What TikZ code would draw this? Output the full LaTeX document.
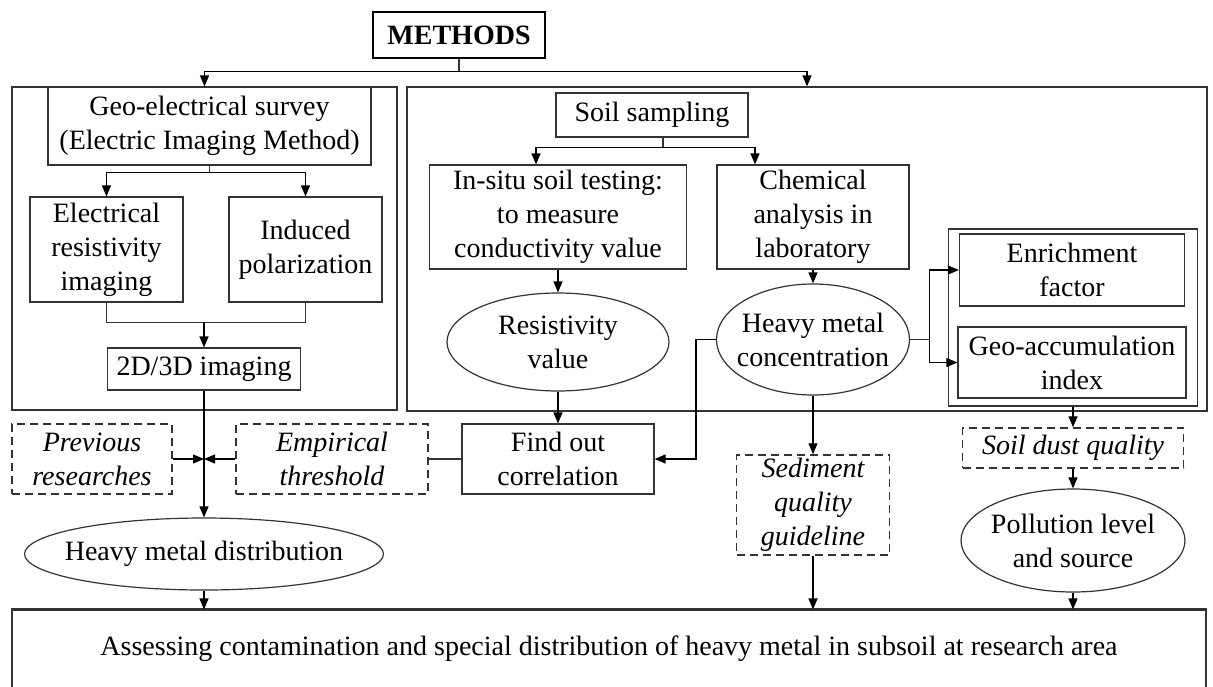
\documentclass[tikz,border=0pt]{standalone}
\usepackage{fontspec}
\setmainfont{Liberation Serif}
\usetikzlibrary{arrows.meta,shapes.geometric}
\definecolor{ln}{HTML}{333333}
\newcommand{\zwbox}[1]{\makebox[0pt]{#1}}
\begin{document}
\begin{tikzpicture}[x=1pt,y=-1pt,
  every node/.style={font=\fontsize{28}{34}\selectfont, align=center, inner sep=0pt},
  box/.style={draw=ln, line width=1.2pt, rectangle},
  dbox/.style={draw=ln, line width=1.5pt, dash pattern=on 8pt off 5pt, rectangle, font=\fontsize{28}{34}\selectfont\itshape},
  oval/.style={draw=ln, line width=1.2pt, ellipse},
  conn/.style={draw=ln, line width=1.2pt},
  arr/.style={conn, -{Triangle[length=11pt,width=9pt]}, color=black}]
\useasboundingbox (0,0) rectangle (1213,686);
\fill[white] (0,0) rectangle (1213,686);

% containers
\node[box, minimum width=385pt, minimum height=323pt] (leftbox) at (204.5,248.5) {};
\node[box, minimum width=800pt, minimum height=324pt] (rightbox) at (807,249) {};
\node[box, minimum width=249pt, minimum height=177pt] (cont) at (1073,317.5) {};

% top
\node[box, line width=2.8pt, draw=black, minimum width=172pt, minimum height=46pt] (methods) at (459,35) {\textbf{METHODS}};

% left column
\node[box, minimum width=323pt, minimum height=78pt] (geo) at (209.5,126) {Geo-electrical survey\\(Electric Imaging Method)};
\node[box, minimum width=153pt, minimum height=105pt] (eri) at (106.5,249.5) {Electrical\\resistivity\\imaging};
\node[box, minimum width=153pt, minimum height=105pt] (ip) at (305.5,249.5) {Induced\\polarization};
\node[box, minimum width=193pt, minimum height=42pt] (img) at (204,369) {2D/3D imaging};
\node[dbox, minimum width=160pt, minimum height=70pt] (prev) at (92,459) {Previous\\researches};
\node[dbox, minimum width=192pt, minimum height=70pt] (emp) at (332,459) {Empirical\\threshold};
\node[oval, minimum width=359pt, minimum height=72pt] (hmd) at (204,554) {\zwbox{Heavy metal distribution}};

% middle
\node[box, minimum width=192pt, minimum height=44pt] (soil) at (652,115) {Soil sampling};
\node[box, minimum width=257pt, minimum height=104pt] (insitu) at (558,217) {In-situ soil testing:\\to measure\\conductivity value};
\node[box, minimum width=192pt, minimum height=104pt] (chem) at (813,217) {Chemical\\analysis in\\laboratory};
\node[oval, minimum width=222pt, minimum height=98pt] (resist) at (558,342) {\zwbox{Resistivity}\\\zwbox{value}};
\node[oval, minimum width=193pt, minimum height=111pt] (hmc) at (813,339.5) {\zwbox{Heavy metal}\\\zwbox{concentration}};
\node[box, minimum width=192pt, minimum height=70pt] (find) at (558,459) {Find out\\correlation};
\node[dbox, minimum width=153pt, minimum height=100pt] (sed) at (813,505) {Sediment\\quality\\guideline};

% right
\node[box, minimum width=225pt, minimum height=72pt] (enrich) at (1072,270) {Enrichment\\factor};
\node[box, minimum width=228pt, minimum height=71pt] (geoacc) at (1072,362.5) {Geo-accumulation\\index};
\node[dbox, minimum width=221pt, minimum height=40pt] (soildust) at (1073,448) {Soil dust quality};
\node[oval, minimum width=224pt, minimum height=103pt] (poll) at (1073,540.5) {\zwbox{Pollution level}\\\zwbox{and source}};

% bottom
\node[box, minimum width=1194pt, minimum height=78pt] (final) at (609,649) {Assessing contamination and special distribution of heavy metal in subsoil at research area};
\draw[ln, line width=3pt] (final.north west) -- (final.north east);

% connectors
\draw[conn] (methods.south) -- ++(0,12) coordinate (mj);
\draw[arr] (mj) -| (leftbox.north);
\draw[arr] (mj) -| (rightbox.north);

\draw[conn] (geo.south) -- ++(0,7) coordinate (gs);
\draw[arr] (gs) -| (eri.north);
\draw[arr] (gs) -| (ip.north);
\draw[conn] (eri.south) -- ++(0,20) -| (ip.south);
\coordinate (mg) at (204,322);
\draw[arr] (mg) -- (img.north);
\draw[arr] (img.south) -- (hmd.north);
\coordinate (jn) at (204,459);
\draw[arr] (prev.east) -- (jn);
\draw[arr] (emp.west) -- (jn);
\draw[conn] (find.west) -- (emp.east);

\draw[conn] ([xshift=11pt]soil.south) -- ++(0,10) coordinate (ss);
\draw[arr] (ss) -| ([xshift=-22pt]insitu.north);
\draw[arr] (ss) -| ([xshift=-58pt]chem.north);
\draw[arr] (insitu.south) -- (resist.north);
\draw[arr] (chem.south) -- (hmc.north);
\draw[arr] (resist.south) -- (find.north);
\draw[arr] (hmc.west) -- ++(-20,0) |- (find.east);
\draw[arr] (hmc.south) -- (sed.north);
\draw[conn] (hmc.east) -- ++(19,0) coordinate (hr);
\draw[arr] (hr) |- (enrich.west);
\draw[arr] (hr) |- (geoacc.west);
\draw[arr] (cont.south) -- (soildust.north);
\draw[arr] (soildust.south) -- (poll.north);

\draw[arr] (hmd.south) -- (hmd.south |- final.north);
\draw[arr] (sed.south) -- (sed.south |- final.north);
\draw[arr] (poll.south) -- (poll.south |- final.north);
\end{tikzpicture}
\end{document}
